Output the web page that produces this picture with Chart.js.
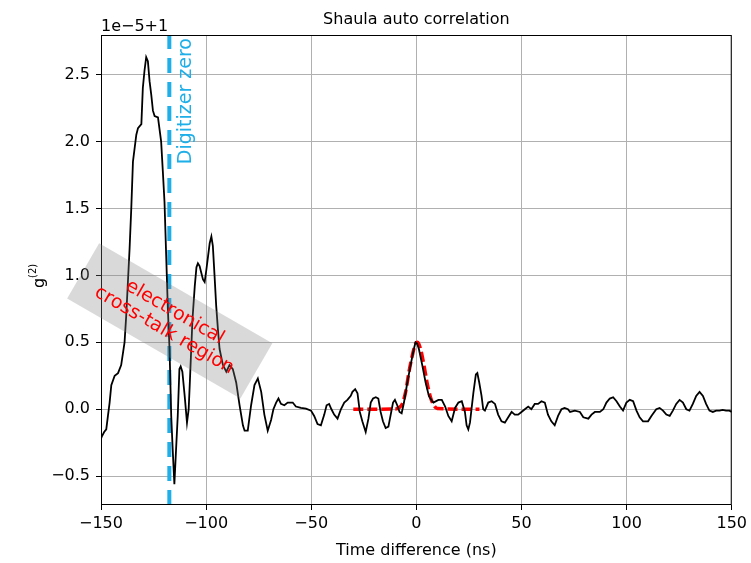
<!DOCTYPE html>
<html>
<head>
<meta charset="utf-8">
<script src="https://cdn.jsdelivr.net/npm/chart.js@4.4.1/dist/chart.umd.min.js"></script>
<style>
  html, body { margin: 0; padding: 0; background: #fff; }
  #wrap { width: 751px; height: 563px; }
</style>
</head>
<body>
<div id="wrap"><canvas id="corrChart" width="751" height="563"></canvas></div>
<script>
// g2 - 1, in units of 1e-5, versus time difference in ns
const timeNs = [-150, -149.5, -148.5, -147.5, -146.7, -145.9, -145.1, -143.5, -141.9, -140.4,
  -138.8, -138.0, -136.4, -135.6, -134.8, -133.2, -132.4, -130.8, -130.1, -129.3,
  -128.5, -127.7, -126.9, -126.1, -125.3, -124.5, -122.9, -121.4, -120.6, -119.8,
  -119.0, -118.2, -117.4, -116.6, -115.9, -115.1, -114.3, -113.5, -112.7, -112.1,
  -111.3, -110.2, -109.1, -108.3, -107.8, -106.5, -105.4, -104.6, -103.9, -103.1,
  -102.3, -101.5, -100.7, -99.9, -99.1, -98.3, -97.5, -96.8, -96.0, -95.2,
  -94.4, -93.6, -92.0, -90.4, -88.9, -87.3, -85.7, -84.1, -82.5, -81.7,
  -80.2, -78.6, -77.0, -75.4, -73.8, -72.3, -70.7, -69.1, -68.0, -66.7,
  -65.6, -64.4, -62.8, -61.2, -58.8, -57.3, -54.9, -52.5, -50.1, -48.6,
  -47.0, -45.4, -43.8, -42.7, -41.5, -40.4, -39.1, -37.5, -35.9, -34.3,
  -32.8, -31.2, -30.4, -29.1, -28.0, -26.9, -25.7, -24.1, -22.8, -21.7,
  -20.6, -19.3, -18.1, -17.0, -15.9, -14.6, -13.3, -12.2, -11.1, -10.2,
  -9.1, -8.0, -7.0, -5.9, -4.3, -2.75, -1.2, -0.4, 0.4, 1.2,
  2.8, 4.4, 5.95, 7.5, 8.1, 10.5, 12.1, 13.7, 15.2, 16.8,
  18.4, 20.0, 21.6, 23.1, 23.9, 24.7, 25.5, 27.1, 28.3, 29.0,
  29.9, 31.0, 31.8, 32.6, 34.2, 35.8, 37.4, 38.9, 40.5, 42.1,
  43.7, 45.3, 46.8, 48.4, 50.0, 51.6, 53.2, 54.7, 56.3, 57.9,
  59.5, 61.1, 62.6, 64.2, 65.8, 67.4, 69.0, 70.5, 72.1, 73.1,
  75.4, 77.8, 79.4, 81.8, 83.3, 84.9, 87.3, 88.9, 90.4, 92.0,
  93.6, 95.2, 96.8, 98.3, 99.9, 101.5, 103.1, 104.7, 106.2, 107.8,
  110.2, 111.8, 114.1, 115.7, 117.3, 118.9, 120.5, 122.0, 123.6, 125.2,
  126.8, 128.4, 129.9, 131.5, 133.1, 134.7, 136.3, 137.8, 139.4, 141.0,
  142.6, 144.2, 145.7, 147.3, 148.9, 150];
const g2 = [-0.22, -0.2, -0.17, -0.15, -0.05, 0.05, 0.18, 0.25, 0.27, 0.33,
  0.5, 0.7, 1.2, 1.5, 1.85, 2.05, 2.1, 2.13, 2.4, 2.53,
  2.63, 2.6, 2.45, 2.35, 2.23, 2.19, 2.18, 2.0, 1.78, 1.55,
  1.15, 0.75, 0.45, -0.05, -0.3, -0.56, -0.3, -0.05, 0.3, 0.32,
  0.28, 0.1, -0.1, 0.0, 0.18, 0.67, 0.92, 1.06, 1.09, 1.07,
  1.02, 0.97, 0.95, 1.04, 1.14, 1.24, 1.29, 1.22, 1.0, 0.77,
  0.6, 0.45, 0.33, 0.28, 0.33, 0.3, 0.2, 0.03, -0.12, -0.16,
  -0.16, 0.03, 0.18, 0.23, 0.13, -0.04, -0.16, -0.08, 0.0, 0.05,
  0.08, 0.04, 0.03, 0.05, 0.05, 0.02, 0.01, 0.005, -0.01, -0.05,
  -0.11, -0.12, -0.04, 0.03, 0.04, 0.0, -0.04, -0.07, 0.0, 0.05,
  0.07, 0.1, 0.13, 0.15, 0.12, -0.02, -0.09, -0.17, -0.07, 0.05,
  0.08, 0.09, 0.08, -0.02, -0.09, -0.14, -0.13, -0.04, 0.05, 0.07,
  0.03, -0.02, -0.03, 0.05, 0.2, 0.33, 0.45, 0.5, 0.49, 0.45,
  0.33, 0.2, 0.1, 0.06, 0.05, 0.07, 0.07, 0.02, -0.05, -0.09,
  0.01, 0.05, 0.06, -0.02, -0.12, -0.15, -0.1, 0.12, 0.26, 0.27,
  0.2, 0.1, 0.0, -0.01, 0.05, 0.06, 0.04, -0.04, -0.09, -0.1,
  -0.06, -0.02, -0.04, -0.04, -0.02, 0.0, 0.02, 0.0, 0.04, 0.04,
  0.06, 0.05, -0.04, -0.09, -0.12, -0.05, 0.0, 0.01, 0.0, -0.02,
  -0.01, -0.02, -0.06, -0.07, -0.04, -0.02, -0.02, 0.0, 0.05, 0.08,
  0.09, 0.06, 0.02, -0.01, 0.05, 0.07, 0.06, -0.01, -0.06, -0.09,
  -0.09, -0.05, 0.0, 0.01, -0.01, -0.04, -0.05, -0.01, 0.04, 0.07,
  0.05, 0.0, -0.01, 0.04, 0.1, 0.13, 0.1, 0.04, -0.01, -0.02,
  -0.01, -0.01, -0.005, -0.01, -0.01, -0.02];

// gaussian fit around zero delay
const fitTimeNs = [-30, -10, -8.3, -6.7, -5.1, -3.5, -1.95, -0.37, 0.6, 2.0, 3.6, 5.2, 6.7, 8.3, 9.9, 30];
const fitG2 = [0, 0.002, 0.012, 0.04, 0.13, 0.28, 0.4, 0.49, 0.5, 0.45, 0.33, 0.19, 0.09, 0.03, 0.005, 0];

const digitizerZero = -117.5;
const xTicks = [-150, -100, -50, 0, 50, 100, 150];
const yTicks = [-0.5, 0.0, 0.5, 1.0, 1.5, 2.0, 2.5];
const xRange = [-150, 150];
const yRange = [-0.715, 2.795];

const FONT = '"DejaVu Sans", sans-serif';
const zeroBlue = '#1eaee8';

const fmt = v => String(v).replace('-', '\u2212');

// title, offset text, axis labels, frame and the two annotations
const decorations = {
  id: 'decorations',
  afterDatasetsDraw(chart) {
    const { ctx, chartArea: a, scales: { x, y } } = chart;
    ctx.save();

    ctx.strokeStyle = '#000';
    ctx.lineWidth = 1;
    ctx.strokeRect(a.left + 0.5, a.top + 0.5, a.right - a.left - 1, a.bottom - a.top - 1);

    // Digitizer zero label
    ctx.save();
    ctx.translate(x.getPixelForValue(-109.7), y.getPixelForValue(1.83));
    ctx.rotate(-Math.PI / 2);
    ctx.fillStyle = zeroBlue;
    ctx.font = '19px ' + FONT;
    ctx.textAlign = 'left';
    ctx.textBaseline = 'middle';
    ctx.fillText('Digitizer zero', 0, 0);
    ctx.restore();

    // cross-talk box
    ctx.save();
    ctx.translate(x.getPixelForValue(-117.3), y.getPixelForValue(0.66));
    ctx.rotate(Math.PI / 6);
    ctx.fillStyle = 'rgba(128,128,128,0.3)';
    ctx.fillRect(-100, -32, 200, 64);
    ctx.fillStyle = '#ff0000';
    ctx.font = '19px ' + FONT;
    ctx.textAlign = 'center';
    ctx.textBaseline = 'middle';
    ctx.fillText('electronical', 0, -10);
    ctx.fillText('cross-talk region', 0, 11);
    ctx.restore();

    // title and labels
    ctx.fillStyle = '#000';
    ctx.font = '16px ' + FONT;
    ctx.textAlign = 'center';
    ctx.textBaseline = 'alphabetic';
    ctx.fillText('Shaula auto correlation', (a.left + a.right) / 2, 24);
    ctx.fillText('Time difference (ns)', (a.left + a.right) / 2, 555);
    ctx.textAlign = 'left';
    ctx.fillText('1e\u22125+1', a.left, 31);

    ctx.save();
    ctx.translate(44, (a.top + a.bottom) / 2 + 4);
    ctx.rotate(-Math.PI / 2);
    ctx.textAlign = 'left';
    ctx.font = '16px ' + FONT;
    ctx.fillText('g', -14, 0);
    ctx.font = '10px ' + FONT;
    ctx.fillText('(2)', -4, -8);
    ctx.restore();

    ctx.restore();
  }
};

new Chart(document.getElementById('corrChart'), {
  type: 'line',
  data: {
    datasets: [
      {
        data: timeNs.map((t, i) => ({ x: t, y: g2[i] })),
        borderColor: '#000',
        borderWidth: 1.8,
        pointRadius: 0,
        tension: 0
      },
      {
        data: fitTimeNs.map((t, i) => ({ x: t, y: fitG2[i] })),
        borderColor: '#ff0000',
        borderWidth: 3.5,
        borderDash: [10, 4],
        pointRadius: 0,
        cubicInterpolationMode: 'monotone'
      },
      {
        data: [{ x: digitizerZero, y: yRange[0] }, { x: digitizerZero, y: yRange[1] }],
        borderColor: zeroBlue,
        borderWidth: 4,
        borderDash: [15, 9],
        pointRadius: 0
      }
    ]
  },
  options: {
    responsive: false,
    animation: false,
    devicePixelRatio: 1,
    layout: { padding: { top: 35, right: 17, left: 0, bottom: 0 } },
    plugins: { legend: { display: false }, tooltip: { enabled: false }, title: { display: false } },
    scales: {
      x: {
        type: 'linear',
        min: xRange[0],
        max: xRange[1],
        afterBuildTicks: s => { s.ticks = xTicks.map(v => ({ value: v })); },
        afterFit: s => { s.height = 58; },
        grid: { color: '#b0b0b0', lineWidth: 1, tickColor: '#000', tickLength: 5 },
        border: { display: false },
        ticks: {
          color: '#000', padding: 4, maxRotation: 0,
          font: { family: FONT, size: 16 },
          callback: v => fmt(v)
        }
      },
      y: {
        type: 'linear',
        min: yRange[0],
        max: yRange[1],
        afterBuildTicks: s => { s.ticks = yTicks.map(v => ({ value: v })); },
        afterFit: s => { s.width = 101; },
        grid: { color: '#b0b0b0', lineWidth: 1, tickColor: '#000', tickLength: 5 },
        border: { display: false },
        ticks: {
          color: '#000', padding: 6,
          font: { family: FONT, size: 16 },
          callback: v => fmt(v.toFixed(1))
        }
      }
    }
  },
  plugins: [decorations]
});
</script>
</body>
</html>
